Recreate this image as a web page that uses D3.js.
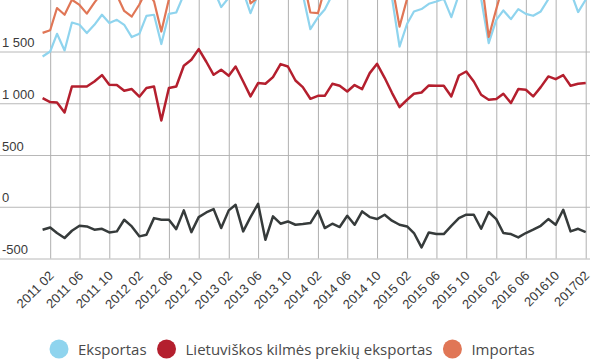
<!DOCTYPE html>
<html lang="lt">
<head>
<meta charset="UTF-8">
<title>Eksportas ir importas</title>
<script src="https://d3js.org/d3.v7.min.js"></script>
<style>
  body { margin: 0; background: #fff; }
  svg { display: block; font-family: "Open Sans", sans-serif; }
</style>
</head>
<body>
<div id="chart"></div>
<script>
// monthly values, 2011 01 .. 2017 02 (mln. EUR)
const startMonth = "2011-01";
const eksportas = [
  1452, 1500, 1671, 1510, 1780, 1758, 1678, 1758, 1855, 1775, 1806, 1758,
  1639, 1671, 1845, 1855, 1572, 1864, 1877, 2050, 2100, 2150, 2050, 2100,
  1929, 2020, 2150, 2080, 1870, 2050, 2020, 2150, 2100, 2150, 2150, 2050,
  1716, 1830, 1905, 2050, 2100, 2100, 2150, 2100, 2150, 2200, 2100, 2020,
  1548, 1768, 1887, 1910, 1961, 1983, 2010, 1832, 2050, 2080, 2060, 2010,
  1581, 1806, 1897, 1813, 1910, 1864, 1845, 1887, 2005, 2100, 2150, 2080,
  1881, 2000
];
const lietuviskos = [
  1050, 1011, 1008,  911, 1162, 1162, 1162, 1210, 1272, 1178, 1176, 1120,
  1137, 1063, 1147, 1162,  834, 1147, 1162, 1362, 1420, 1523, 1401, 1275,
  1323, 1265, 1355, 1210, 1066, 1195, 1188, 1253, 1378, 1355, 1220, 1156,
  1043, 1072, 1072, 1188, 1169, 1114, 1176, 1137, 1291, 1381, 1246, 1101,
   963, 1034, 1092, 1104, 1172, 1169, 1169, 1066, 1268, 1307, 1210, 1082,
  1034, 1040, 1092, 1002, 1137, 1130, 1066, 1156, 1259, 1233, 1272, 1169,
  1188, 1195
];
const importas = [
  1680, 1705, 1920, 1855, 2000, 1950, 1866, 1972, 2068, 2025, 2044, 1892,
  1838, 1954, 2090, 1985, 1693, 2005, 2093, 2085, 2300, 2250, 2105, 2123,
  2135, 2055, 2131, 2318, 1965, 2021, 2339, 2243, 2264, 2292, 2324, 2217,
  1877, 1870, 2111, 2214, 2296, 2187, 2324, 2145, 2250, 2319, 2177, 2155,
  1740, 2010, 2141, 2303, 2209, 2247, 2274, 2016, 2160, 2157, 2137, 2223,
  1640, 1910, 2151, 2077, 2206, 2118, 2067, 2071, 2124, 2274, 2179, 2318,
  2094, 2245
];
const balansas = [
  -222, -200, -254, -302, -232, -184, -190, -222, -213, -248, -238, -126,
  -190, -286, -270, -110, -126, -126, -216,  -35, -245, -100,  -55,  -23,
  -206,  -35,   19, -238, -100,   29, -319,  -93, -164, -142, -174, -167,
  -158,  -39, -206, -164, -196,  -87, -174,  -45, -100, -119,  -77, -135,
  -174, -190, -254, -393, -248, -264, -264, -184, -110,  -77,  -77, -213,
   -51, -119, -254, -264, -296, -254, -222, -184, -119, -174,  -29, -238,
  -213, -245
];

const xTickMonths = ["2011-02","2011-06","2011-10","2012-02","2012-06","2012-10",
  "2013-02","2013-06","2013-10","2014-02","2014-06","2014-10","2015-02","2015-06",
  "2015-10","2016-02","2016-06","2016-10","2017-02"];
const xTickLabels = ["2011 02","2011 06","2011 10","2012 02","2012 06","2012 10",
  "2013 02","2013 06","2013 10","2014 02","2014 06","2014 10","2015 02","2015 06",
  "2015 10","2016 02","2016 06","201610","201702"];
const yTicks = [-500, 0, 500, 1000, 1500];
const yTickLabels = ["-500", "0", "500", "1 000", "1 500"];

const seriesNames = ["Eksportas", "Lietuviškos kilmės prekių eksportas", "Importas"];
const seriesColors = ["#8fd4ee", "#b41f2e", "#e07656"];

const width = 600, height = 360;
const parseMonth = d3.timeParse("%Y-%m");
const start = parseMonth(startMonth);
const months = eksportas.map((d, i) => d3.timeMonth.offset(start, i));

const svg = d3.select("#chart").append("svg")
  .attr("width", width)
  .attr("height", height);

const x = d3.scaleTime()
  .domain([months[0], months[months.length - 1]])
  .range([42.6, 585.7]);

const y = d3.scaleLinear()
  .domain([-500, 1500])
  .range([258.5, 51.5]);

// horizontal grid + labels
const yAxis = svg.append("g")
  .attr("transform", "translate(590,0)")
  .call(d3.axisLeft(y).tickValues(yTicks).tickSize(590).tickSizeOuter(0)
    .tickFormat((d, i) => yTickLabels[i]));
yAxis.select(".domain").remove();
yAxis.selectAll("line").attr("stroke", "#b8b8b8");
yAxis.selectAll("text")
  .attr("x", -588).attr("dy", -5)
  .attr("text-anchor", "start")
  .attr("fill", "#3a3a3a")
  .style("font-size", "13px");

// vertical grid + rotated month labels
const xAxis = svg.append("g")
  .attr("transform", "translate(0,258.5)")
  .call(d3.axisBottom(x).tickValues(xTickMonths.map(parseMonth))
    .tickSize(-262).tickSizeOuter(0)
    .tickFormat((d, i) => xTickLabels[i]));
xAxis.select(".domain").remove();
xAxis.selectAll("line").attr("stroke", "#b0b0b0");
xAxis.selectAll("text")
  .attr("x", 0).attr("y", 0).attr("dy", null)
  .attr("text-anchor", "end")
  .attr("transform", "translate(4,18) rotate(-45)")
  .attr("fill", "#3a3a3a")
  .style("font-size", "13px");

const line = d3.line()
  .x((d, i) => x(months[i]))
  .y(d => y(d));

svg.append("path").datum(eksportas)
  .attr("fill", "none").attr("stroke", seriesColors[0])
  .attr("stroke-width", 2.2).attr("stroke-linejoin", "round")
  .attr("d", line);
svg.append("path").datum(importas)
  .attr("fill", "none").attr("stroke", seriesColors[2])
  .attr("stroke-width", 2.2).attr("stroke-linejoin", "round")
  .attr("d", line);
svg.append("path").datum(lietuviskos)
  .attr("fill", "none").attr("stroke", seriesColors[1])
  .attr("stroke-width", 2.5).attr("stroke-linejoin", "round")
  .attr("d", line);
svg.append("path").datum(balansas)
  .attr("fill", "none").attr("stroke", "#363b3b")
  .attr("stroke-width", 2.5).attr("stroke-linejoin", "round")
  .attr("d", line);

// legend
const legend = svg.append("g").attr("transform", "translate(0,349)");
let lx = 59;
seriesNames.forEach((name, i) => {
  legend.append("circle")
    .attr("cx", lx).attr("cy", 0).attr("r", 9.5)
    .attr("fill", seriesColors[i]);
  const t = legend.append("text")
    .attr("x", lx + 19).attr("y", 5.5)
    .attr("fill", "#4a4a4a")
    .style("font-size", "15px")
    .text(name);
  lx += 19 + t.node().getComputedTextLength() + 20;
});
</script>
</body>
</html>
